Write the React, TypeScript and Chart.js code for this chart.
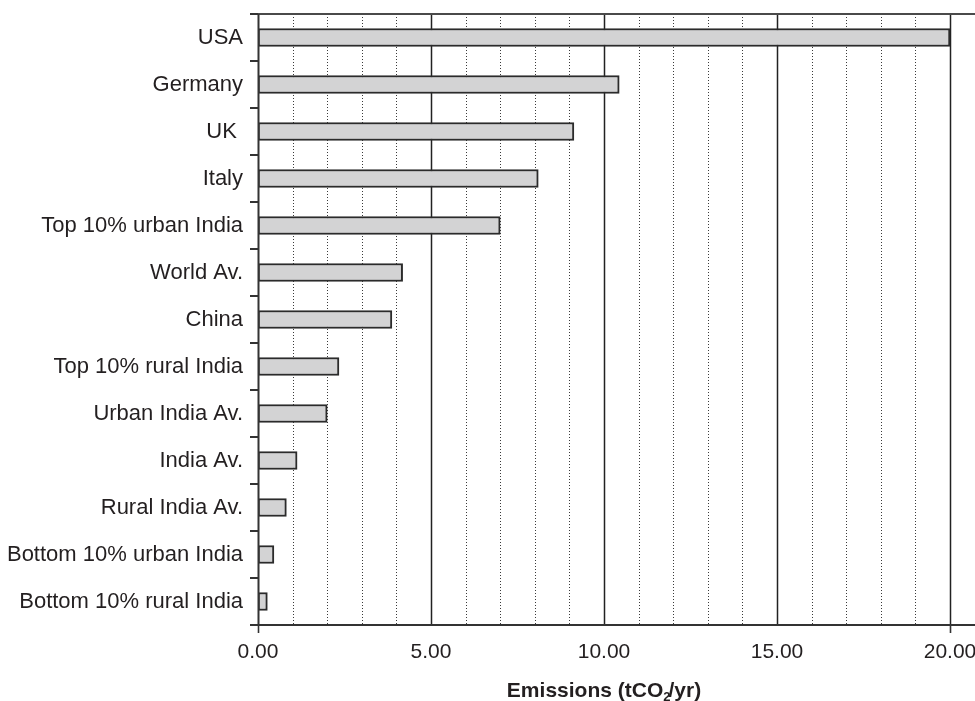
import React, { useEffect, useRef } from "react";
import { Chart, registerables } from "chart.js";

Chart.register(...registerables);

// Per-capita emissions, tonnes CO2 per year
const categories = [
  "USA",
  "Germany",
  "UK ",
  "Italy",
  "Top 10% urban India",
  "World Av.",
  "China",
  "Top 10% rural India",
  "Urban India Av.",
  "India Av.",
  "Rural India Av.",
  "Bottom 10% urban India",
  "Bottom 10% rural India",
];

const emissions = [20.0, 10.44, 9.13, 8.1, 7.0, 4.18, 3.87, 2.34, 2.0, 1.13, 0.82, 0.46, 0.27];

const xMin = 0;
const xMax = 20;
const majorStep = 5;
const minorStep = 1;
// Axis title pieces: main text, subscript, trailing text
const titleHead = "Emissions (tCO";
const titleSub = "2";
const titleTail = "/yr)";

const FONT = "'Liberation Sans', Arial, Helvetica, sans-serif";
const INK = "#231f20";

// Grid, frame, tick marks and axis title drawn from the chart's own scales
const framePlugin = {
  id: "frame",
  beforeDatasetsDraw(chart: any) {
    const { ctx, chartArea, scales } = chart;
    const { top, bottom } = chartArea;
    const x = scales.x;
    ctx.save();
    // dotted minor lines
    ctx.strokeStyle = "#3a3a3a";
    ctx.lineWidth = 1;
    ctx.setLineDash([1, 2]);
    for (let v = xMin + minorStep; v < xMax; v += minorStep) {
      if (v % majorStep === 0) continue;
      const px = Math.round(x.getPixelForValue(v)) + 0.5;
      ctx.beginPath();
      ctx.moveTo(px, top);
      ctx.lineTo(px, bottom);
      ctx.stroke();
    }
    // solid major lines
    ctx.setLineDash([]);
    ctx.strokeStyle = "#222";
    ctx.lineWidth = 1.5;
    for (let v = xMin + majorStep; v <= xMax; v += majorStep) {
      const px = Math.round(x.getPixelForValue(v)) + 0.5;
      ctx.beginPath();
      ctx.moveTo(px, top);
      ctx.lineTo(px, bottom);
      ctx.stroke();
    }
    ctx.restore();
  },
  afterDatasetsDraw(chart: any) {
    const { ctx, chartArea, scales, width } = chart;
    const { left, right, top, bottom } = chartArea;
    const x = scales.x;
    const y = scales.y;
    const tick = 8;
    ctx.save();
    ctx.lineWidth = 2;
    ctx.strokeStyle = "#4a4a4a";
    // top rule
    ctx.beginPath();
    ctx.moveTo(left - tick, top);
    ctx.lineTo(width, top);
    ctx.stroke();
    // x axis line
    ctx.strokeStyle = "#333";
    ctx.beginPath();
    ctx.moveTo(left - tick, bottom);
    ctx.lineTo(width, bottom);
    ctx.stroke();
    // y axis line
    const ax = Math.round(x.getPixelForValue(xMin)) + 0.5;
    ctx.beginPath();
    ctx.moveTo(ax, top);
    ctx.lineTo(ax, bottom);
    ctx.stroke();
    // y tick marks between categories
    for (let i = 0; i <= categories.length; i++) {
      const py = y.getPixelForValue(i - 0.5);
      ctx.beginPath();
      ctx.moveTo(left - tick, py);
      ctx.lineTo(left, py);
      ctx.stroke();
    }
    // x tick marks at the ends of the axis
    ctx.lineWidth = 1.6;
    [xMin, xMax].forEach((v) => {
      const px = Math.round(x.getPixelForValue(v)) + 0.5;
      ctx.beginPath();
      ctx.moveTo(px, bottom);
      ctx.lineTo(px, bottom + tick);
      ctx.stroke();
    });

    // axis title with a lowered subscript
    const mainFont = `bold 21px ${FONT}`;
    const subFont = `bold 13px ${FONT}`;
    ctx.fillStyle = INK;
    ctx.textBaseline = "alphabetic";
    ctx.textAlign = "left";
    ctx.font = mainFont;
    const wHead = ctx.measureText(titleHead).width;
    const wTail = ctx.measureText(titleTail).width;
    ctx.font = subFont;
    const wSub = ctx.measureText(titleSub).width;
    const total = wHead + wSub + wTail - 2;
    const baseline = bottom + 72;
    let tx = (left + right) / 2 - total / 2;
    ctx.font = mainFont;
    ctx.fillText(titleHead, tx, baseline);
    tx += wHead;
    ctx.font = subFont;
    ctx.fillText(titleSub, tx, baseline + 4);
    tx += wSub - 2;
    ctx.font = mainFont;
    ctx.fillText(titleTail, tx, baseline);
    ctx.restore();
  },
};

export default function App() {
  const ref = useRef<HTMLCanvasElement | null>(null);

  useEffect(() => {
    if (!ref.current) return;
    const chart = new Chart(ref.current, {
      type: "bar",
      data: {
        labels: categories,
        datasets: [
          {
            data: emissions,
            backgroundColor: "#d3d3d4",
            borderColor: "#2b2b2b",
            borderWidth: 2,
            borderSkipped: false,
            barThickness: 18,
          },
        ],
      },
      options: {
        indexAxis: "y",
        responsive: false,
        animation: false,
        layout: { padding: { top: 14, right: 25, left: 0, bottom: 0 } },
        plugins: {
          legend: { display: false },
          tooltip: { enabled: false },
        },
        scales: {
          x: {
            type: "linear",
            min: xMin,
            max: xMax,
            grid: { display: false, drawTicks: false },
            border: { display: false },
            ticks: {
              stepSize: majorStep,
              padding: 15,
              color: INK,
              font: { family: FONT, size: 21 },
              maxRotation: 0,
              callback: (v: any) => Number(v).toFixed(2),
            },
            title: { display: false },
            afterFit: (s: any) => {
              s.height = 76;
              s.paddingLeft = 0;
              s.paddingRight = 0;
            },
          },
          y: {
            grid: { display: false, drawTicks: false },
            border: { display: false },
            ticks: {
              padding: 15,
              color: INK,
              font: { family: FONT, size: 22 },
            },
            afterFit: (s: any) => {
              s.width = 258;
              s.paddingTop = 0;
              s.paddingBottom = 0;
            },
          },
        },
      },
      plugins: [framePlugin],
    });
    return () => chart.destroy();
  }, []);

  return (
    <div style={{ position: "absolute", left: 0, top: 0, width: 975, height: 701, background: "#fff" }}>
      <canvas ref={ref} width={975} height={701} />
    </div>
  );
}
